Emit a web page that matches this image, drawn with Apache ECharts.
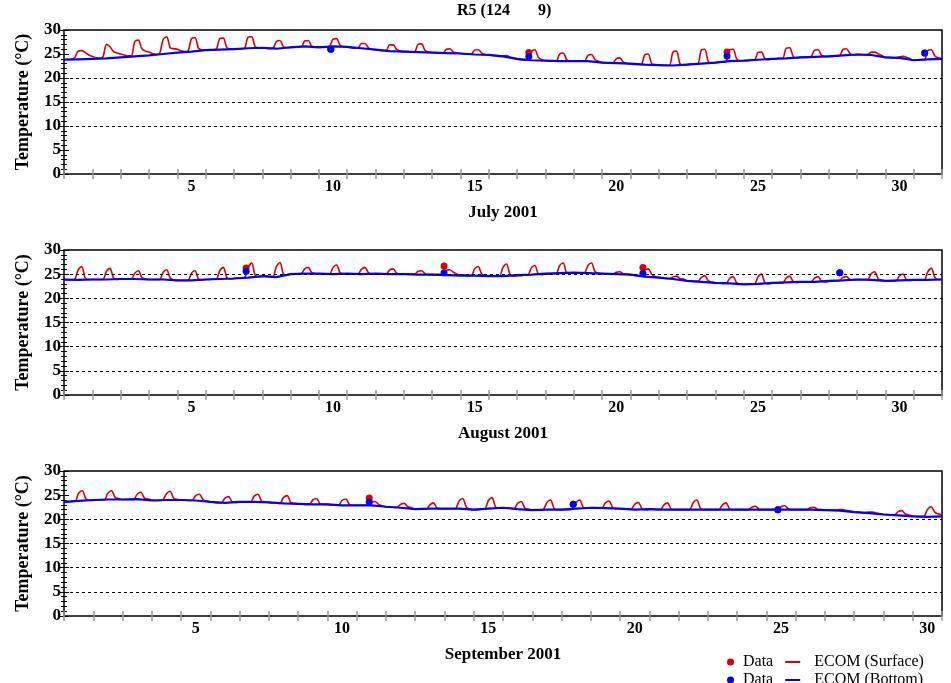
<!DOCTYPE html>
<html>
<head>
<meta charset="utf-8">
<title>R5</title>
<script src="https://cdn.jsdelivr.net/npm/echarts@6/dist/echarts.min.js"></script>
<style>
  html, body { margin: 0; padding: 0; background: #fff; }
  #chart { width: 951px; height: 683px; }
</style>
</head>
<body>
<div id="chart"></div>
<script>
const months = ['July 2001', 'August 2001', 'September 2001']
const monthDays = [31, 31, 30]
const dayLabels = [5, 10, 15, 20, 25, 30]
const gridValues = [[10, 15, 20], [5, 10, 15, 20, 25], [5, 10, 15, 20]]

// ECOM surface temperature, every 3 h from the 1st at 00:00 (one row per day)
const julySurface = [
  23.9, 23.9, 23.9, 24.2, 25.6, 25.7, 25.3, 24.8,
  24.5, 24.2, 24.1, 24.4, 27.0, 26.5, 25.5, 25.2,
  25.0, 24.8, 24.6, 24.6, 27.6, 27.9, 26.1, 25.6,
  25.4, 25.1, 24.9, 25.1, 28.0, 28.6, 26.3, 26.1,
  26.0, 25.7, 25.5, 25.6, 28.2, 28.4, 26.2, 25.9,
  25.9, 25.9, 25.9, 26.0, 28.2, 28.3, 26.3, 26.1,
  26.1, 26.1, 26.1, 26.2, 28.5, 28.6, 26.5, 26.3,
  26.3, 26.2, 26.1, 26.2, 27.6, 27.8, 26.5, 26.3,
  26.4, 26.5, 26.5, 26.5, 27.7, 27.8, 26.6, 26.5,
  26.5, 26.5, 26.5, 26.6, 28.1, 28.2, 26.8, 26.5,
  26.4, 26.3, 26.2, 26.2, 27.2, 27.2, 26.3, 26.0,
  25.9, 25.8, 25.7, 25.7, 26.9, 26.9, 25.9, 25.6,
  25.5, 25.5, 25.4, 25.4, 27.0, 27.1, 25.7, 25.4,
  25.3, 25.3, 25.2, 25.2, 26.0, 26.1, 25.4, 25.2,
  25.1, 25.0, 25.0, 25.0, 25.8, 25.9, 25.2, 24.9,
  24.8, 24.7, 24.6, 24.5, 24.6, 24.7, 24.3, 24.1,
  23.9, 23.8, 23.7, 23.7, 25.5, 25.9, 24.3, 23.8,
  23.6, 23.5, 23.5, 23.5, 25.0, 25.2, 23.8, 23.5,
  23.5, 23.5, 23.5, 23.5, 24.7, 24.9, 23.8, 23.5,
  23.2, 23.2, 23.1, 23.1, 24.0, 24.2, 23.3, 23.0,
  22.9, 22.8, 22.8, 22.8, 24.8, 25.0, 23.0, 22.8,
  22.7, 22.6, 22.6, 22.6, 25.4, 25.6, 23.0, 22.7,
  22.8, 22.9, 22.9, 22.9, 25.8, 26.0, 23.4, 23.1,
  23.2, 23.3, 23.3, 23.4, 25.9, 26.0, 24.0, 23.6,
  23.6, 23.6, 23.7, 23.7, 25.3, 25.4, 24.0, 23.8,
  24.0, 24.0, 24.1, 24.1, 26.2, 26.3, 24.4, 24.2,
  24.3, 24.3, 24.3, 24.4, 25.8, 25.9, 24.7, 24.5,
  24.5, 24.5, 24.6, 24.6, 25.9, 26.1, 25.1, 24.8,
  24.9, 24.9, 24.8, 24.8, 25.4, 25.4, 25.0, 24.7,
  24.3, 24.3, 24.2, 24.2, 24.4, 24.5, 24.3, 24.0,
  23.7, 23.7, 23.8, 23.8, 25.7, 25.9, 24.6, 24.2,
  24.0
]
const augustSurface = [
  23.9, 23.8, 23.8, 23.9, 25.9, 26.6, 24.2, 23.9,
  23.9, 23.9, 23.9, 23.9, 25.6, 26.2, 24.2, 23.9,
  24.0, 24.0, 24.0, 24.0, 25.2, 25.7, 24.3, 24.0,
  23.9, 23.9, 23.9, 23.9, 25.4, 25.9, 24.2, 23.8,
  23.7, 23.7, 23.7, 23.7, 25.2, 25.7, 24.0, 23.8,
  23.9, 23.9, 24.0, 24.0, 25.7, 26.4, 24.3, 24.0,
  24.1, 24.2, 24.2, 24.3, 26.4, 27.3, 24.8, 24.4,
  24.6, 24.6, 24.5, 24.5, 26.6, 27.4, 25.0, 24.8,
  25.0, 25.0, 25.1, 25.1, 26.1, 26.4, 25.3, 25.1,
  25.1, 25.0, 25.0, 25.0, 26.4, 26.9, 25.3, 25.1,
  25.1, 25.1, 25.0, 25.0, 26.0, 26.4, 25.3, 25.0,
  25.1, 25.1, 25.0, 25.0, 25.9, 26.1, 25.2, 25.0,
  25.0, 25.0, 25.0, 25.0, 25.6, 25.7, 25.1, 24.9,
  24.9, 24.9, 24.9, 24.9, 25.8, 25.9, 25.4, 25.0,
  24.8, 24.8, 24.7, 24.7, 26.1, 26.6, 25.0, 24.7,
  24.6, 24.6, 24.6, 24.6, 26.4, 27.1, 24.9, 24.6,
  24.7, 24.7, 24.8, 24.8, 26.3, 26.8, 25.0, 24.9,
  25.0, 25.0, 25.1, 25.1, 26.8, 27.3, 25.3, 25.2,
  25.3, 25.3, 25.3, 25.3, 26.8, 27.3, 25.5, 25.2,
  25.1, 25.1, 25.1, 25.0, 25.4, 25.5, 25.1, 25.0,
  24.9, 24.8, 24.7, 24.6, 25.8, 26.1, 25.0, 24.5,
  24.3, 24.2, 24.1, 24.1, 24.4, 24.6, 24.1, 24.0,
  23.6, 23.6, 23.5, 23.5, 24.3, 24.7, 23.6, 23.4,
  23.2, 23.2, 23.1, 23.1, 24.1, 24.5, 23.2, 23.0,
  22.9, 22.9, 22.9, 22.9, 24.4, 25.0, 23.2, 23.0,
  23.1, 23.2, 23.2, 23.2, 24.2, 24.6, 23.4, 23.3,
  23.4, 23.4, 23.4, 23.4, 24.2, 24.5, 23.5, 23.4,
  23.5, 23.6, 23.6, 23.7, 24.3, 24.5, 23.9, 23.8,
  23.9, 23.9, 23.9, 23.9, 25.1, 25.5, 24.0, 23.8,
  23.6, 23.6, 23.6, 23.6, 24.7, 25.0, 23.8, 23.7,
  23.8, 23.8, 23.8, 23.8, 25.5, 26.2, 24.3, 23.9,
  23.9
]
const septemberSurface = [
  23.6, 23.6, 23.7, 23.7, 25.4, 25.9, 24.2, 23.9,
  23.9, 24.0, 24.0, 24.0, 25.4, 25.9, 24.5, 24.3,
  24.1, 24.1, 24.1, 24.1, 25.2, 25.6, 24.4, 24.2,
  24.0, 23.9, 23.9, 24.0, 25.3, 25.8, 24.3, 24.1,
  24.0, 24.0, 23.9, 23.9, 24.9, 25.2, 24.1, 23.8,
  23.6, 23.5, 23.4, 23.4, 24.4, 24.7, 23.6, 23.5,
  23.6, 23.6, 23.6, 23.6, 24.8, 25.2, 23.8, 23.6,
  23.5, 23.4, 23.4, 23.3, 24.5, 24.9, 23.5, 23.3,
  23.2, 23.2, 23.1, 23.1, 24.0, 24.3, 23.2, 23.1,
  23.1, 23.0, 22.9, 22.9, 23.9, 24.2, 23.1, 22.9,
  22.9, 22.9, 22.9, 22.9, 23.5, 23.7, 23.1, 22.8,
  22.6, 22.6, 22.5, 22.5, 23.1, 23.3, 22.6, 22.4,
  22.1, 22.1, 22.1, 22.1, 23.0, 23.4, 22.3, 22.2,
  22.2, 22.2, 22.2, 22.2, 23.8, 24.3, 22.5, 22.1,
  22.0, 22.0, 22.1, 22.1, 23.9, 24.5, 22.5, 22.3,
  22.4, 22.4, 22.3, 22.2, 23.3, 23.7, 22.3, 22.1,
  21.9, 21.9, 21.9, 22.0, 23.5, 24.0, 22.2, 22.0,
  22.0, 22.0, 22.0, 22.1, 23.5, 24.0, 22.4, 22.3,
  22.4, 22.4, 22.3, 22.3, 23.4, 23.8, 22.4, 22.2,
  22.2, 22.2, 22.1, 22.1, 23.1, 23.5, 22.2, 22.0,
  22.1, 22.1, 22.0, 22.0, 23.0, 23.4, 22.1, 22.0,
  22.0, 22.0, 22.0, 22.0, 23.5, 24.0, 22.2, 22.0,
  22.0, 22.0, 22.0, 22.0, 23.0, 23.4, 22.1, 22.0,
  22.0, 22.0, 22.0, 22.0, 22.5, 22.7, 22.1, 22.0,
  22.0, 22.0, 22.0, 22.0, 22.6, 22.8, 22.2, 22.0,
  22.0, 22.0, 22.0, 22.0, 22.4, 22.5, 22.1, 22.0,
  21.9, 21.9, 21.9, 21.9, 22.0, 22.0, 21.8, 21.7,
  21.5, 21.5, 21.4, 21.4, 21.5, 21.5, 21.3, 21.2,
  21.0, 21.0, 20.9, 20.9, 21.6, 21.8, 21.1, 20.9,
  20.7, 20.6, 20.6, 20.6, 22.0, 22.6, 21.5, 21.1,
  21.0
]

// ECOM bottom temperature, every 12 h from the 1st at 00:00
const julyBottom = [
  23.8, 23.9, 24.0, 24.1, 24.3, 24.5, 24.7, 25.0, 25.3, 25.5,
  25.8, 25.9, 26.0, 26.2, 26.3, 26.1, 26.4, 26.6, 26.4, 26.6,
  26.5, 26.2, 25.9, 25.6, 25.5, 25.4, 25.3, 25.2, 25.1, 24.9,
  24.8, 24.5, 24.0, 23.7, 23.6, 23.5, 23.5, 23.5, 23.2, 23.1,
  23.0, 22.8, 22.7, 22.6, 22.8, 23.0, 23.2, 23.5, 23.6, 23.8,
  24.0, 24.1, 24.3, 24.4, 24.5, 24.7, 24.9, 24.8, 24.3, 24.2,
  23.7, 23.9, 24.0
]
const augustBottom = [
  23.9, 23.8, 23.9, 23.9, 24.0, 24.0, 23.9, 23.9, 23.7, 23.7,
  23.9, 24.0, 24.1, 24.3, 24.6, 24.4, 25.0, 25.1, 25.1, 25.0,
  25.1, 25.0, 25.1, 25.0, 25.0, 24.9, 24.9, 24.8, 24.7, 24.7,
  24.6, 24.6, 24.8, 24.9, 25.1, 25.2, 25.3, 25.2, 25.1, 25.0,
  24.9, 24.5, 24.3, 24.0, 23.6, 23.4, 23.2, 23.1, 22.9, 23.0,
  23.2, 23.3, 23.4, 23.4, 23.6, 23.7, 23.9, 23.8, 23.6, 23.7,
  23.8, 23.8, 23.9
]
const septemberBottom = [
  23.6, 23.8, 24.0, 24.1, 24.1, 24.2, 23.9, 24.0, 24.0, 23.9,
  23.6, 23.4, 23.6, 23.6, 23.5, 23.3, 23.2, 23.1, 23.1, 22.9,
  22.9, 22.9, 22.6, 22.4, 22.1, 22.2, 22.2, 22.2, 22.0, 22.2,
  22.4, 22.1, 21.9, 22.0, 22.0, 22.2, 22.4, 22.3, 22.2, 22.0,
  22.1, 22.0, 22.0, 22.0, 22.0, 22.0, 22.0, 22.0, 22.0, 22.0,
  22.0, 22.0, 21.9, 21.8, 21.5, 21.3, 21.0, 20.8, 20.6, 20.5,
  20.6
]

// observations [days from the 1st 00:00, °C]
const julyDataSurface = [[9.42, 26.0], [16.41, 25.3], [23.41, 25.4], [30.39, 25.2]]
const julyDataBottom = [[9.42, 26.0], [16.41, 24.5], [23.41, 24.6], [30.39, 25.2]]
const augustDataSurface = [[6.43, 26.3], [13.42, 26.7], [20.44, 26.4], [27.39, 25.3]]
const augustDataBottom = [[6.43, 25.6], [13.42, 25.3], [20.44, 25.2], [27.39, 25.3]]
const septemberDataSurface = [[10.43, 24.4], [17.4, 23.1], [24.39, 22.0]]
const septemberDataBottom = [[10.43, 23.6], [17.4, 23.1], [24.39, 22.0]]

const surfaces = [julySurface, augustSurface, septemberSurface]
const bottoms = [julyBottom, augustBottom, septemberBottom]
const dataSurface = [julyDataSurface, augustDataSurface, septemberDataSurface]
const dataBottom = [julyDataBottom, augustDataBottom, septemberDataBottom]

const FONT = 'Liberation Serif'
const RED = '#dd0000'
const BLUE = '#0000ff'
const boldText = { fontFamily: FONT, fontWeight: 'bold', color: '#000' }
const lineIcon = 'path://M0,0L15,0L15,2L0,2Z'

const gridPos = [{ top: 30, height: 144 }, { top: 250, height: 145 }, { top: 471, height: 145 }]

const grid = []
const xAxis = []
const yAxis = []
const series = []

months.forEach((month, i) => {
  grid.push({
    left: 64, right: 9, top: gridPos[i].top, height: gridPos[i].height,
    show: true, borderColor: '#000', borderWidth: 1.5
  })
  const xBase = {
    type: 'value', gridIndex: i, min: 0, max: monthDays[i], interval: 1,
    axisLine: { show: false },
    axisTick: { inside: true, length: 5, lineStyle: { color: '#999', width: 1.5 } },
    splitLine: { show: false }
  }
  xAxis.push({
    ...xBase,
    position: 'bottom',
    axisLabel: {
      customValues: dayLabels.map(d => d - 0.5),
      formatter: v => String(Math.round(v + 0.5)),
      margin: 5, fontSize: 16, ...boldText
    },
    name: month, nameLocation: 'middle', nameGap: 30,
    nameTextStyle: { fontSize: 17, ...boldText }
  })
  xAxis.push({ ...xBase, position: 'top', axisLabel: { show: false } })

  const yBase = {
    type: 'value', gridIndex: i, min: 0, max: 30, interval: 5,
    axisLine: { show: false },
    axisTick: { inside: true, length: 5, lineStyle: { color: '#000' } },
    minorTick: { show: true, splitNumber: 5, length: 3, lineStyle: { color: '#000' } },
    splitLine: { show: false }
  }
  yAxis.push({
    ...yBase,
    position: 'left',
    axisLabel: { margin: 3, fontSize: 17, ...boldText },
    name: 'Temperature (°C)', nameLocation: 'middle', nameGap: 32,
    nameTextStyle: { fontSize: 18, ...boldText }
  })
  yAxis.push({ ...yBase, position: 'right', axisLabel: { show: false } })

  const xi = 2 * i
  const yi = 2 * i
  // dashed reference lines
  series.push({
    type: 'line', xAxisIndex: xi, yAxisIndex: yi, data: [], silent: true, z: 1,
    markLine: {
      silent: true, symbol: 'none', label: { show: false },
      lineStyle: { color: '#000', type: [3, 3], width: 1 },
      data: gridValues[i].map(v => ({ yAxis: v }))
    }
  })
  series.push({
    name: 'ECOM (Surface)', type: 'line', xAxisIndex: xi, yAxisIndex: yi, z: 2,
    data: surfaces[i].map((v, k) => [k / 8, v]),
    showSymbol: false, symbol: 'none', smooth: 0.3,
    lineStyle: { color: RED, width: 1.6 }, itemStyle: { color: RED }
  })
  series.push({
    name: 'ECOM (Bottom)', type: 'line', xAxisIndex: xi, yAxisIndex: yi, z: 3,
    data: bottoms[i].map((v, k) => [k / 2, v]),
    showSymbol: false, symbol: 'none',
    lineStyle: { color: BLUE, width: 2.2 }, itemStyle: { color: BLUE }
  })
  series.push({
    name: 'Data', type: 'scatter', xAxisIndex: xi, yAxisIndex: yi, z: 4,
    data: dataSurface[i], symbolSize: 7, itemStyle: { color: RED, opacity: 1 }
  })
  series.push({
    name: 'Data ', type: 'scatter', xAxisIndex: xi, yAxisIndex: yi, z: 5,
    data: dataBottom[i], symbolSize: 7, itemStyle: { color: BLUE, opacity: 1 }
  })
})

const legendText = { fontFamily: FONT, fontSize: 16, color: '#000' }
const chart = echarts.init(document.getElementById('chart'))
chart.setOption({
  animation: false,
  backgroundColor: '#fff',
  title: {
    text: 'R5 (124       9)', left: 457, top: 3, padding: 0,
    textStyle: { fontSize: 16, ...boldText }
  },
  legend: [
    {
      left: 722, top: 649, itemWidth: 15, itemHeight: 7, itemGap: 12, selectedMode: false,
      textStyle: legendText, formatter: n => n.trim(),
      data: [
        { name: 'Data', icon: 'circle' },
        { name: 'ECOM (Surface)', icon: lineIcon, textStyle: { padding: [0, 0, 0, 9] } }
      ]
    },
    {
      left: 722, top: 667, itemWidth: 15, itemHeight: 7, itemGap: 12, selectedMode: false,
      textStyle: legendText, formatter: n => n.trim(),
      data: [
        { name: 'Data ', icon: 'circle' },
        { name: 'ECOM (Bottom)', icon: lineIcon, textStyle: { padding: [0, 0, 0, 9] } }
      ]
    }
  ],
  grid,
  xAxis,
  yAxis,
  series
})
</script>
</body>
</html>
